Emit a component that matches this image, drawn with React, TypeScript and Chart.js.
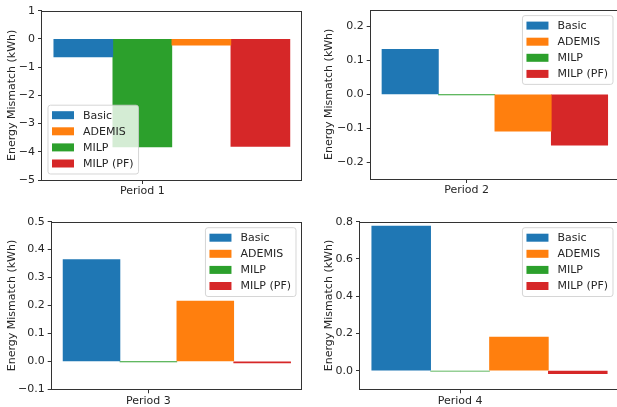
import React, { useEffect, useRef } from 'react';
import { Chart, registerables } from 'chart.js';
Chart.register(...registerables);

// ---------- data ----------
const SERIES_NAMES = ['Basic', 'ADEMIS', 'MILP', 'MILP (PF)'];
const SERIES_COLORS = ['#1f77b4', '#ff7f0e', '#2ca02c', '#d62728'];
// bar slot (in bar widths) relative to the period tick
const SERIES_SLOTS = [-1, 1, 0, 2];
const PERIODS = ['Period 1', 'Period 2', 'Period 3', 'Period 4'];
const BASIC = [-0.64, 0.133, 0.364, 0.777];
const ADEMIS = [-0.22, -0.109, 0.216, 0.18];
const MILP = [-3.83, -0.001, -0.001, -0.002];
const MILP_PF = [-3.81, -0.15, -0.006, -0.016];
const Y_MIN = [-5, -0.25, -0.1, -0.1];
const Y_MAX = [1, 0.25, 0.5, 0.8];
const Y_TICKS_P1 = [-5, -4, -3, -2, -1, 0, 1];
const Y_TICKS_P2 = [-0.2, -0.1, 0, 0.1, 0.2];
const Y_TICKS_P3 = [-0.1, 0, 0.1, 0.2, 0.3, 0.4, 0.5];
const Y_TICKS_P4 = [0, 0.2, 0.4, 0.6, 0.8];
const Y_TICKS = [Y_TICKS_P1, Y_TICKS_P2, Y_TICKS_P3, Y_TICKS_P4];
const Y_DECIMALS = [0, 1, 1, 1];
const Y_TITLE = 'Energy Mismatch (kWh)';
const SERIES_VALUES = [BASIC, ADEMIS, MILP, MILP_PF];

// ---------- layout ----------
const FONT = "'DejaVu Sans', sans-serif";
const TEXT = '#262626';
const AXIS = '#333333';

type Panel = {
  left: number; top: number; w: number; h: number;
  area: { l: number; t: number; r: number; b: number };
  titleX: number;
  legend: 'lower left' | 'upper right';
};

const PANELS: Panel[] = [
  { left: 0, top: 0, w: 308, h: 203, area: { l: 42, t: 10.7, r: 301.7, b: 180 }, titleX: 12, legend: 'lower left' },
  { left: 310, top: 0, w: 312, h: 203, area: { l: 60.7, t: 6, r: 309, b: 179 }, titleX: 19, legend: 'upper right' },
  { left: 0, top: 203, w: 308, h: 204, area: { l: 51.7, t: 18.7, r: 302, b: 186.3 }, titleX: 12, legend: 'upper right' },
  { left: 310, top: 203, w: 312, h: 204, area: { l: 50, t: 18.7, r: 309, b: 186.3 }, titleX: 19, legend: 'upper right' },
];

const fmt = (v: number, d: number) => {
  const s = Math.abs(v).toFixed(d);
  return (v < -1e-9 ? '\u2212' : '') + s;
};

const frameLegendPlugin = {
  id: 'frameLegend',
  afterDatasetsDraw(chart: any, _args: any, opts: any) {
    const ctx = chart.ctx;
    const a = chart.chartArea;
    ctx.save();
    // spines
    ctx.strokeStyle = AXIS;
    ctx.lineWidth = 1;
    const x0 = Math.round(a.left) - 0.5;
    const y0 = Math.round(a.top) + 0.5;
    const x1 = Math.round(a.right) - 0.5;
    const y1 = Math.round(a.bottom) + 0.5;
    ctx.strokeRect(x0, y0, x1 - x0, y1 - y0);

    // legend
    ctx.font = `11px ${FONT}`;
    const ds = chart.data.datasets;
    let maxW = 0;
    ds.forEach((d: any) => { maxW = Math.max(maxW, ctx.measureText(d.label).width); });
    const pad = 6;
    const boxW = 4 + 22 + 9 + maxW + 5;
    const rowH = 16.1;
    const boxH = 10 + rowH * (ds.length - 1) + 10.5;
    let bx: number, by: number;
    if (opts.loc === 'lower left') {
      bx = a.left + pad;
      by = a.bottom - pad - boxH;
    } else {
      bx = a.right - pad - boxW;
      by = a.top + pad;
    }
    ctx.beginPath();
    const r = 2.5;
    ctx.moveTo(bx + r, by);
    ctx.arcTo(bx + boxW, by, bx + boxW, by + boxH, r);
    ctx.arcTo(bx + boxW, by + boxH, bx, by + boxH, r);
    ctx.arcTo(bx, by + boxH, bx, by, r);
    ctx.arcTo(bx, by, bx + boxW, by, r);
    ctx.closePath();
    ctx.fillStyle = 'rgba(255,255,255,0.8)';
    ctx.fill();
    ctx.strokeStyle = 'rgba(204,204,204,0.8)';
    ctx.stroke();
    ds.forEach((d: any, i: number) => {
      const cy = by + 10 + i * rowH;
      ctx.fillStyle = d.backgroundColor;
      ctx.fillRect(bx + 4, cy - 4, 22, 8);
      ctx.fillStyle = TEXT;
      ctx.textBaseline = 'middle';
      ctx.textAlign = 'left';
      ctx.fillText(d.label, bx + 4 + 22 + 9, cy + 0.5);
    });
    ctx.restore();
  },
};

function PanelChart({ idx }: { idx: number }) {
  const ref = useRef<HTMLCanvasElement>(null);
  const p = PANELS[idx];
  useEffect(() => {
    if (!ref.current) return;
    const datasets = SERIES_NAMES.map((name, s) => ({
      label: name,
      data: [{ x: SERIES_SLOTS[s], y: SERIES_VALUES[s][idx] }],
      backgroundColor: SERIES_COLORS[s],
      borderWidth: 0,
      grouped: false,
      categoryPercentage: 1,
      barPercentage: 1,
    }));
    const chart = new Chart(ref.current, {
      type: 'bar',
      data: { datasets },
      plugins: [frameLegendPlugin],
      options: {
        animation: false,
        responsive: false,
        maintainAspectRatio: false,
        layout: {
          padding: { left: 0, top: p.area.t, right: p.w - p.area.r, bottom: 0 },
        },
        plugins: {
          legend: { display: false },
          tooltip: { enabled: false },
          frameLegend: { loc: p.legend },
        } as any,
        scales: {
          x: {
            type: 'linear',
            min: -1.7,
            max: 2.7,
            offset: false,
            afterBuildTicks: (s: any) => { s.ticks = [{ value: 0 }]; },
            afterFit: (s: any) => { s.height = p.h - p.area.b; },
            ticks: {
              callback: () => PERIODS[idx],
              font: { family: FONT, size: 11 },
              color: TEXT,
              padding: 1,
              maxRotation: 0,
              autoSkip: false,
            },
            grid: { display: true, drawOnChartArea: false, drawTicks: true, tickLength: 4, color: AXIS, offset: false },
            border: { display: false },
          },
          y: {
            type: 'linear',
            min: Y_MIN[idx],
            max: Y_MAX[idx],
            afterBuildTicks: (s: any) => { s.ticks = Y_TICKS[idx].map((v) => ({ value: v })); },
            afterFit: (s: any) => { s.width = p.area.l; },
            ticks: {
              callback: (v: any) => fmt(Number(v), Y_DECIMALS[idx]),
              font: { family: FONT, size: 11 },
              color: TEXT,
              padding: 3,
              autoSkip: false,
            },
            grid: { display: true, drawOnChartArea: false, drawTicks: true, tickLength: 4, color: AXIS },
            border: { display: false },
            title: {
              display: true,
              text: Y_TITLE,
              font: { family: FONT, size: 11 },
              color: TEXT,
              padding: { top: p.titleX - 6.6, bottom: 0 },
            },
          },
        },
      } as any,
    });
    return () => chart.destroy();
  }, [idx]);
  return (
    <canvas
      ref={ref}
      width={p.w}
      height={p.h}
      style={{ position: 'absolute', left: p.left, top: p.top, width: p.w, height: p.h, display: 'block' }}
    />
  );
}

export default function App() {
  return (
    <div style={{ position: 'fixed', left: 0, top: 0, width: 617, height: 407, overflow: 'hidden', background: '#ffffff' }}>
      {PANELS.map((_, i) => (
        <PanelChart key={i} idx={i} />
      ))}
    </div>
  );
}
